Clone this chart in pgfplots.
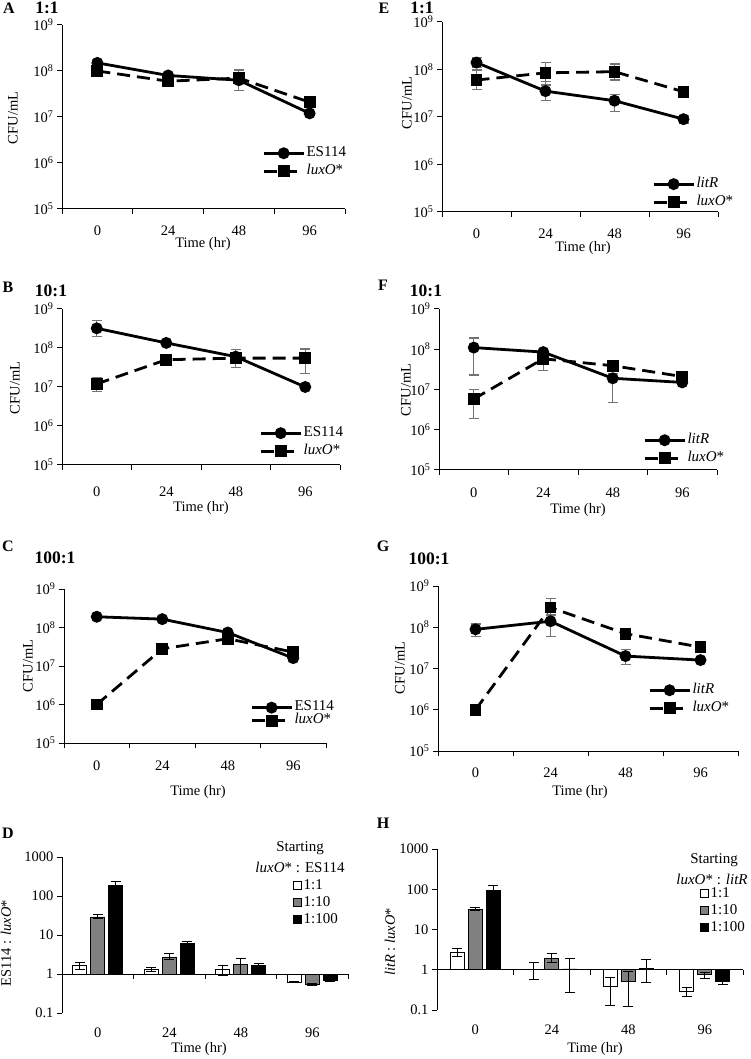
\documentclass[border=0pt]{standalone}
\usepackage{fontspec}
\setmainfont{Liberation Serif}
\usepackage{pgfplots}
\pgfplotsset{compat=1.18}
\definecolor{errgray}{gray}{0.45}
\definecolor{bargray}{gray}{0.5}
\newcommand{\fs}{\fontsize{14.5}{16}\selectfont}
\newcommand{\lf}{\fontsize{15}{16}\selectfont}
\begin{document}
\begin{tikzpicture}
\useasboundingbox (0pt,0pt) rectangle (750pt,-1059pt);
%================ A
\begin{axis}[scale only axis, anchor=north west, at={(62pt,-25pt)}, width=283pt, height=184pt,
  ymode=log, xmin=-0.5, xmax=3.5, ymin=1e5, ymax=1e9,
  xtick={-0.5,0.5,1.5,2.5,3.5}, x tick label as interval, xticklabels={0,24,48,96},
  ytick={1e5,1e6,1e7,1e8,1e9},
  yticklabels={10\textsuperscript{5},10\textsuperscript{6},10\textsuperscript{7},10\textsuperscript{8},10\textsuperscript{9}},
  minor tick length=0pt, tick align=outside, major tick length=5pt,
  tick style={black, line width=1pt}, axis line style={line width=1pt},
  axis lines*=left, tick label style={font=\fs}, xticklabel style={yshift=-8pt},
  clip=false, legend cell align=left,
  legend style={draw=none, fill=none, inner sep=0pt, anchor=north west, font=\lf, nodes={inner sep=1.5pt, text height=11pt, text depth=4pt}, at={(0.707,0.353)}},
  legend image code/.code={\draw[mark repeat=2,mark phase=2,#1] plot coordinates {(0pt,0pt) (20pt,0pt) (40pt,0pt)};}]
\addplot[black, solid, line width=2.8pt, mark=*, mark size=4.5pt, mark options={solid, fill=black},
  error bars/.cd, y dir=both, y explicit, error bar style={errgray, solid, line width=1.2pt},
  error mark options={errgray, solid, rotate=90, mark size=5pt, line width=1.2pt}]
 table[x=x,y=y,y error plus=p,y error minus=m]{
x y p m
0 1.5e8 2.5e7 2.5e7
1 8e7 5e6 5e6
2 6.3e7 5e6 5e6
3 1.2e7 1e6 1e6
};
\addlegendentry{ES114}
\addplot[black, line width=2.8pt, dash pattern=on 13pt off 7pt, mark=square*, mark size=4.5pt, mark options={solid, fill=black},
  error bars/.cd, y dir=both, y explicit, error bar style={errgray, solid, line width=1.2pt},
  error mark options={errgray, solid, rotate=90, mark size=5pt, line width=1.2pt}]
 table[x=x,y=y,y error plus=p,y error minus=m]{
x y p m
0 1e8 3e7 2e7
1 6e7 5e6 5e6
2 7e7 3.5e7 3.2e7
3 2.1e7 2e6 2e6
};
\addlegendentry{\textit{luxO}*}
\end{axis}
%================ E
\begin{axis}[scale only axis, anchor=north west, at={(442pt,-22pt)}, width=276pt, height=190pt,
  ymode=log, xmin=-0.5, xmax=3.5, ymin=1e5, ymax=1e9,
  xtick={-0.5,0.5,1.5,2.5,3.5}, x tick label as interval, xticklabels={0,24,48,96},
  ytick={1e5,1e6,1e7,1e8,1e9},
  yticklabels={10\textsuperscript{5},10\textsuperscript{6},10\textsuperscript{7},10\textsuperscript{8},10\textsuperscript{9}},
  minor tick length=0pt, tick align=outside, major tick length=5pt,
  tick style={black, line width=1pt}, axis line style={line width=1pt},
  axis lines*=left, tick label style={font=\fs}, xticklabel style={yshift=-8pt},
  clip=false, legend cell align=left,
  legend style={draw=none, fill=none, inner sep=0pt, anchor=north west, font=\lf, nodes={inner sep=1.5pt, text height=11pt, text depth=4pt}, at={(0.761,0.195)}},
  legend image code/.code={\draw[mark repeat=2,mark phase=2,#1] plot coordinates {(0pt,0pt) (20pt,0pt) (40pt,0pt)};}]
\addplot[black, solid, line width=2.8pt, mark=*, mark size=4.5pt, mark options={solid, fill=black},
  error bars/.cd, y dir=both, y explicit, error bar style={errgray, solid, line width=1.2pt},
  error mark options={errgray, solid, rotate=90, mark size=5pt, line width=1.2pt}]
 table[x=x,y=y,y error plus=p,y error minus=m]{
x y p m
0 1.4e8 4e7 3e7
1 3.5e7 2e7 1.3e7
2 2.2e7 8e6 9e6
3 9e6 1.5e6 1.5e6
};
\addlegendentry{\textit{litR}}
\addplot[black, line width=2.8pt, dash pattern=on 13pt off 7pt, mark=square*, mark size=4.5pt, mark options={solid, fill=black},
  error bars/.cd, y dir=both, y explicit, error bar style={errgray, solid, line width=1.2pt},
  error mark options={errgray, solid, rotate=90, mark size=5pt, line width=1.2pt}]
 table[x=x,y=y,y error plus=p,y error minus=m]{
x y p m
0 6e7 3.8e7 2.2e7
1 8.5e7 5.5e7 3.8e7
2 9e7 4e7 3e7
3 3.4e7 3e6 3e6
};
\addlegendentry{\textit{luxO}*}
\end{axis}
%================ B
\begin{axis}[scale only axis, anchor=north west, at={(62pt,-309pt)}, width=278pt, height=156pt,
  ymode=log, xmin=-0.5, xmax=3.5, ymin=1e5, ymax=1e9,
  xtick={-0.5,0.5,1.5,2.5,3.5}, x tick label as interval, xticklabels={0,24,48,96},
  ytick={1e5,1e6,1e7,1e8,1e9},
  yticklabels={10\textsuperscript{5},10\textsuperscript{6},10\textsuperscript{7},10\textsuperscript{8},10\textsuperscript{9}},
  minor tick length=0pt, tick align=outside, major tick length=5pt,
  tick style={black, line width=1pt}, axis line style={line width=1pt},
  axis lines*=left, tick label style={font=\fs}, xticklabel style={yshift=-13pt},
  clip=false, legend cell align=left,
  legend style={draw=none, fill=none, inner sep=0pt, anchor=north west, font=\lf, nodes={inner sep=1.5pt, text height=11pt, text depth=4pt}, at={(0.709,0.263)}},
  legend image code/.code={\draw[mark repeat=2,mark phase=2,#1] plot coordinates {(0pt,0pt) (20pt,0pt) (40pt,0pt)};}]
\addplot[black, solid, line width=2.8pt, mark=*, mark size=4.5pt, mark options={solid, fill=black},
  error bars/.cd, y dir=both, y explicit, error bar style={errgray, solid, line width=1.2pt},
  error mark options={errgray, solid, rotate=90, mark size=5pt, line width=1.2pt}]
 table[x=x,y=y,y error plus=p,y error minus=m]{
x y p m
0 3.2e8 1.8e8 1.2e8
1 1.35e8 1e7 1e7
2 6e7 3e6 3e6
3 1.0e7 1e6 1e6
};
\addlegendentry{ES114}
\addplot[black, line width=2.8pt, dash pattern=on 13pt off 7pt, mark=square*, mark size=4.5pt, mark options={solid, fill=black},
  error bars/.cd, y dir=both, y explicit, error bar style={errgray, solid, line width=1.2pt},
  error mark options={errgray, solid, rotate=90, mark size=5pt, line width=1.2pt}]
 table[x=x,y=y,y error plus=p,y error minus=m]{
x y p m
0 1.2e7 5e6 4.4e6
1 5e7 3e6 3e6
2 5.5e7 3.5e7 2.3e7
3 5.5e7 3.9e7 3.3e7
};
\addlegendentry{\textit{luxO}*}
\end{axis}
%================ F
\begin{axis}[scale only axis, anchor=north west, at={(439pt,-309pt)}, width=278pt, height=161pt,
  ymode=log, xmin=-0.5, xmax=3.5, ymin=1e5, ymax=1e9,
  xtick={-0.5,0.5,1.5,2.5,3.5}, x tick label as interval, xticklabels={0,24,48,96},
  ytick={1e5,1e6,1e7,1e8,1e9},
  yticklabels={10\textsuperscript{5},10\textsuperscript{6},10\textsuperscript{7},10\textsuperscript{8},10\textsuperscript{9}},
  minor tick length=0pt, tick align=outside, major tick length=5pt,
  tick style={black, line width=1pt}, axis line style={line width=1pt},
  axis lines*=left, tick label style={font=\fs}, xticklabel style={yshift=-9pt},
  clip=false, legend cell align=left,
  legend style={draw=none, fill=none, inner sep=0pt, anchor=north west, font=\lf, nodes={inner sep=1.5pt, text height=11pt, text depth=4pt}, at={(0.734,0.242)}},
  legend image code/.code={\draw[mark repeat=2,mark phase=2,#1] plot coordinates {(0pt,0pt) (20pt,0pt) (40pt,0pt)};}]
\addplot[black, solid, line width=2.8pt, mark=*, mark size=4.5pt, mark options={solid, fill=black},
  error bars/.cd, y dir=both, y explicit, error bar style={errgray, solid, line width=1.2pt},
  error mark options={errgray, solid, rotate=90, mark size=5pt, line width=1.2pt}]
 table[x=x,y=y,y error plus=p,y error minus=m]{
x y p m
0 1.1e8 8e7 8.7e7
1 8.5e7 5e6 5e6
2 1.9e7 6e6 1.42e7
3 1.5e7 1e6 1e6
};
\addlegendentry{\textit{litR}}
\addplot[black, line width=2.8pt, dash pattern=on 13pt off 7pt, mark=square*, mark size=4.5pt, mark options={solid, fill=black},
  error bars/.cd, y dir=both, y explicit, error bar style={errgray, solid, line width=1.2pt},
  error mark options={errgray, solid, rotate=90, mark size=5pt, line width=1.2pt}]
 table[x=x,y=y,y error plus=p,y error minus=m]{
x y p m
0 5.8e6 4.2e6 3.9e6
1 5.8e7 3.5e7 2.8e7
2 3.9e7 3e6 3e6
3 2.1e7 2e6 2e6
};
\addlegendentry{\textit{luxO}*}
\end{axis}
%================ C
\begin{axis}[scale only axis, anchor=north west, at={(64pt,-589pt)}, width=262pt, height=154pt,
  ymode=log, xmin=-0.5, xmax=3.5, ymin=1e5, ymax=1e9,
  xtick={-0.5,0.5,1.5,2.5,3.5}, x tick label as interval, xticklabels={0,24,48,96},
  ytick={1e5,1e6,1e7,1e8,1e9},
  yticklabels={10\textsuperscript{5},10\textsuperscript{6},10\textsuperscript{7},10\textsuperscript{8},10\textsuperscript{9}},
  minor tick length=0pt, tick align=outside, major tick length=5pt,
  tick style={black, line width=1pt}, axis line style={line width=1pt},
  axis lines*=left, tick label style={font=\fs}, xticklabel style={yshift=-9pt},
  clip=false, legend cell align=left,
  legend style={draw=none, fill=none, inner sep=0pt, anchor=north west, font=\lf, nodes={inner sep=1.5pt, text height=8pt, text depth=2pt}, at={(0.71,0.273)}},
  legend image code/.code={\draw[mark repeat=2,mark phase=2,#1] plot coordinates {(0pt,0pt) (20pt,0pt) (40pt,0pt)};}]
\addplot[black, solid, line width=2.8pt, mark=*, mark size=4.5pt, mark options={solid, fill=black},
  error bars/.cd, y dir=both, y explicit, error bar style={errgray, solid, line width=1.2pt},
  error mark options={errgray, solid, rotate=90, mark size=5pt, line width=1.2pt}]
 table[x=x,y=y,y error plus=p,y error minus=m]{
x y p m
0 1.9e8 1.5e7 1.5e7
1 1.65e8 1e7 1e7
2 7.4e7 4e6 4e6
3 1.6e7 5e6 3e6
};
\addlegendentry{ES114}
\addplot[black, line width=2.8pt, dash pattern=on 13pt off 7pt, mark=square*, mark size=4.5pt, mark options={solid, fill=black},
  error bars/.cd, y dir=both, y explicit, error bar style={errgray, solid, line width=1.2pt},
  error mark options={errgray, solid, rotate=90, mark size=5pt, line width=1.2pt}]
 table[x=x,y=y,y error plus=p,y error minus=m]{
x y p m
0 1e6 0 0
1 2.8e7 2e6 2e6
2 5.1e7 4e6 4e6
3 2.3e7 2e6 2e6
};
\addlegendentry{\textit{luxO}*}
\end{axis}
%================ G
\begin{axis}[scale only axis, anchor=north west, at={(438pt,-586pt)}, width=300pt, height=165pt,
  ymode=log, xmin=-0.5, xmax=3.5, ymin=1e5, ymax=1e9,
  xtick={-0.5,0.5,1.5,2.5,3.5}, x tick label as interval, xticklabels={0,24,48,96},
  ytick={1e5,1e6,1e7,1e8,1e9},
  yticklabels={10\textsuperscript{5},10\textsuperscript{6},10\textsuperscript{7},10\textsuperscript{8},10\textsuperscript{9}},
  minor tick length=0pt, tick align=outside, major tick length=5pt,
  tick style={black, line width=1pt}, axis line style={line width=1pt},
  axis lines*=left, tick label style={font=\fs}, xticklabel style={yshift=-8pt},
  clip=false, legend cell align=left,
  legend style={draw=none, fill=none, inner sep=0pt, anchor=north west, font=\lf, nodes={inner sep=1.5pt, text height=11pt, text depth=4pt}, at={(0.70,0.424)}},
  legend image code/.code={\draw[mark repeat=2,mark phase=2,#1] plot coordinates {(0pt,0pt) (20pt,0pt) (40pt,0pt)};}]
\addplot[black, solid, line width=2.8pt, mark=*, mark size=4.5pt, mark options={solid, fill=black},
  error bars/.cd, y dir=both, y explicit, error bar style={errgray, solid, line width=1.2pt},
  error mark options={errgray, solid, rotate=90, mark size=5pt, line width=1.2pt}]
 table[x=x,y=y,y error plus=p,y error minus=m]{
x y p m
0 8.9e7 3.1e7 3.0e7
1 1.4e8 5e7 8.1e7
2 2.0e7 9e6 7.4e6
3 1.6e7 1e6 1e6
};
\addlegendentry{\textit{litR}}
\addplot[black, line width=2.8pt, dash pattern=on 13pt off 7pt, mark=square*, mark size=4.5pt, mark options={solid, fill=black},
  error bars/.cd, y dir=both, y explicit, error bar style={errgray, solid, line width=1.2pt},
  error mark options={errgray, solid, rotate=90, mark size=5pt, line width=1.2pt}]
 table[x=x,y=y,y error plus=p,y error minus=m]{
x y p m
0 1e6 0 0
1 3e8 1.9e8 1.0e8
2 7e7 1e7 1.3e7
3 3.3e7 2e6 2e6
};
\addlegendentry{\textit{luxO}*}
\end{axis}
%================ D
\begin{axis}[scale only axis, anchor=north west, at={(62pt,-857pt)}, width=286pt, height=156pt,
  ymode=log, xmin=-0.5, xmax=3.5, ymin=0.1, ymax=1000,
  xtick={-0.5,0.5,1.5,2.5,3.5}, x tick label as interval, xticklabels={0,24,48,96},
  ytick={0.1,1,10,100,1000}, yticklabels={0.1,1,10,100,1000},
  minor tick length=0pt, tick align=outside, major tick length=5pt,
  tick style={black, line width=1pt}, axis line style={line width=1pt},
  axis lines*=left, tick label style={font=\fs}, xticklabel style={yshift=-6pt},
  x axis line style={draw=none}, major x tick style=transparent,
  ybar=4pt, bar width=14pt, log origin y=0,
  clip=false, legend cell align=left,
  legend style={draw=none, fill=none, inner sep=0pt, anchor=north west, font=\lf, nodes={inner sep=1.5pt, text height=11pt, text depth=3pt}, at={(0.808,0.872)}}]
\addplot[draw=black, fill=white, line width=0.8pt,
  legend image code/.code={\draw[line width=0.8pt, fill=white] (0pt,-4pt) rectangle (8pt,4pt);},
  error bars/.cd, y dir=both, y explicit, error bar style={black, line width=1pt},
  error mark options={black, rotate=90, mark size=5pt, line width=1pt}]
 table[x=x,y=y,y error plus=p,y error minus=m]{
x y p m
0 1.64 0.36 0.34
1 1.3 0.15 0.15
2 1.3 0.37 0.4
3 0.62 0.03 0.03
};
\addlegendentry{1:1}
\addplot[draw=black, fill=bargray, line width=0.8pt,
  legend image code/.code={\draw[line width=0.8pt, fill=bargray] (0pt,-4pt) rectangle (8pt,4pt);},
  error bars/.cd, y dir=both, y explicit, error bar style={black, line width=1pt},
  error mark options={black, rotate=90, mark size=5pt, line width=1pt}]
 table[x=x,y=y,y error plus=p,y error minus=m]{
x y p m
0 29 4 3
1 2.7 0.6 0.4
2 1.74 0.76 0.74
3 0.55 0.03 0.03
};
\addlegendentry{1:10}
\addplot[draw=black, fill=black, line width=0.8pt,
  legend image code/.code={\draw[line width=0.8pt, fill=black] (0pt,-4pt) rectangle (8pt,4pt);},
  error bars/.cd, y dir=both, y explicit, error bar style={black, line width=1pt},
  error mark options={black, rotate=90, mark size=5pt, line width=1pt}]
 table[x=x,y=y,y error plus=p,y error minus=m]{
x y p m
0 191 43 20
1 6.0 1.0 0.8
2 1.64 0.2 0.15
3 0.67 0.04 0.04
};
\addlegendentry{1:100}
\draw[line width=1pt] (axis cs:-0.5,1) -- (axis cs:3.5,1);
\draw[line width=1pt] (axis cs:0.5,1) -- ++(0pt,-5pt);
\draw[line width=1pt] (axis cs:1.5,1) -- ++(0pt,-5pt);
\draw[line width=1pt] (axis cs:2.5,1) -- ++(0pt,-5pt);
\draw[line width=1pt] (axis cs:3.5,1) -- ++(0pt,-5pt);
\end{axis}
%================ H
\begin{axis}[scale only axis, anchor=north west, at={(437pt,-849pt)}, width=306pt, height=161pt,
  ymode=log, xmin=-0.5, xmax=3.5, ymin=0.1, ymax=1000,
  xtick={-0.5,0.5,1.5,2.5,3.5}, x tick label as interval, xticklabels={0,24,48,96},
  ytick={0.1,1,10,100,1000}, yticklabels={0.1,1,10,100,1000},
  minor tick length=0pt, tick align=outside, major tick length=5pt,
  tick style={black, line width=1pt}, axis line style={line width=1pt},
  axis lines*=left, tick label style={font=\fs}, xticklabel style={yshift=-6pt},
  x axis line style={draw=none}, major x tick style=transparent,
  ybar=4pt, bar width=14pt, log origin y=0,
  clip=false, legend cell align=left,
  legend style={draw=none, fill=none, inner sep=0pt, anchor=north west, font=\lf, nodes={inner sep=1.5pt, text height=11pt, text depth=3pt}, at={(0.86,0.776)}}]
\addplot[draw=black, fill=white, line width=0.8pt,
  legend image code/.code={\draw[line width=0.8pt, fill=white] (0pt,-4pt) rectangle (8pt,4pt);},
  error bars/.cd, y dir=both, y explicit, error bar style={black, line width=1pt},
  error mark options={black, rotate=90, mark size=5pt, line width=1pt}]
 table[x=x,y=y,y error plus=p,y error minus=m]{
x y p m
0 2.75 0.65 0.65
1 1.04 0.46 0.48
2 0.39 0.25 0.26
3 0.29 0.08 0.07
};
\addlegendentry{1:1}
\addplot[draw=black, fill=bargray, line width=0.8pt,
  legend image code/.code={\draw[line width=0.8pt, fill=bargray] (0pt,-4pt) rectangle (8pt,4pt);},
  error bars/.cd, y dir=both, y explicit, error bar style={black, line width=1pt},
  error mark options={black, rotate=90, mark size=5pt, line width=1pt}]
 table[x=x,y=y,y error plus=p,y error minus=m]{
x y p m
0 32 3 3
1 1.95 0.55 0.45
2 0.51 0.4 0.39
3 0.75 0.11 0.15
};
\addlegendentry{1:10}
\addplot[draw=black, fill=black, line width=0.8pt,
  legend image code/.code={\draw[line width=0.8pt, fill=black] (0pt,-4pt) rectangle (8pt,4pt);},
  error bars/.cd, y dir=both, y explicit, error bar style={black, line width=1pt},
  error mark options={black, rotate=90, mark size=5pt, line width=1pt}]
 table[x=x,y=y,y error plus=p,y error minus=m]{
x y p m
0 92 30 15
1 1.05 0.83 0.77
2 1.1 0.67 0.61
3 0.51 0.08 0.07
};
\addlegendentry{1:100}
\draw[line width=1pt] (axis cs:-0.5,1) -- (axis cs:3.5,1);
\draw[line width=1pt] (axis cs:0.5,1) -- ++(0pt,-5pt);
\draw[line width=1pt] (axis cs:1.5,1) -- ++(0pt,-5pt);
\draw[line width=1pt] (axis cs:2.5,1) -- ++(0pt,-5pt);
\draw[line width=1pt] (axis cs:3.5,1) -- ++(0pt,-5pt);
\end{axis}
%================ texts
\tikzset{lett/.style={font=\fontsize{16}{18}\selectfont\bfseries}, ttl/.style={font=\fontsize{17.5}{20}\selectfont\bfseries}, lab/.style={font=\fs}}
\node[lett] at (9pt,-8pt) {A};
\node[ttl] at (47pt,-8pt) {1:1};
\node[lett] at (384pt,-8pt) {E};
\node[ttl] at (422pt,-8pt) {1:1};
\node[lett] at (8pt,-287pt) {B};
\node[ttl] at (51pt,-291pt) {10:1};
\node[lett] at (383pt,-285pt) {F};
\node[ttl] at (426pt,-291pt) {10:1};
\node[lett] at (8pt,-546pt) {C};
\node[ttl] at (55pt,-558pt) {100:1};
\node[lett] at (383pt,-546pt) {G};
\node[ttl] at (429pt,-559pt) {100:1};
\node[lett] at (8pt,-833pt) {D};
\node[lett] at (383pt,-823pt) {H};
\node[lab, rotate=90] at (13pt,-118pt) {CFU/mL};
\node[lab, rotate=90] at (407pt,-103pt) {CFU/mL};
\node[lab, rotate=90] at (15pt,-388pt) {CFU/mL};
\node[lab, rotate=90] at (406pt,-390pt) {CFU/mL};
\node[lab, rotate=90] at (28pt,-666pt) {CFU/mL};
\node[lab, rotate=90] at (400pt,-668pt) {CFU/mL};
\node[lab, rotate=90] at (6pt,-943pt) {ES114 : \textit{luxO}*};
\node[lab, rotate=90] at (390pt,-942pt) {\textit{litR} : \textit{luxO}*};
\node[lab] at (203pt,-244pt) {Time (hr)};
\node[lab] at (583pt,-248pt) {Time (hr)};
\node[lab] at (201pt,-508pt) {Time (hr)};
\node[lab] at (578pt,-510pt) {Time (hr)};
\node[lab] at (198pt,-792pt) {Time (hr)};
\node[lab] at (580pt,-792pt) {Time (hr)};
\node[lab] at (199pt,-1049pt) {Time (hr)};
\node[lab] at (595pt,-1049pt) {Time (hr)};
\node[font=\lf] at (300pt,-848pt) {Starting};
\node[font=\lf] at (300pt,-867pt) {\textit{luxO}* : ES114};
\node[font=\lf] at (714pt,-860pt) {Starting};
\node[font=\lf] at (712pt,-879pt) {\textit{luxO}* : \textit{litR}};
\end{tikzpicture}
\end{document}
